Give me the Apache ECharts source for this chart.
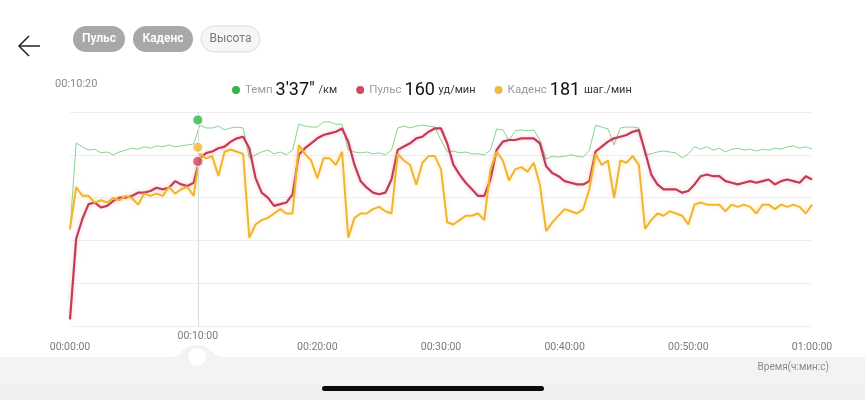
<!DOCTYPE html>
<html><head><meta charset="utf-8">
<script src="https://cdn.jsdelivr.net/npm/echarts@6/dist/echarts.min.js"></script>
<style>html,body{margin:0;padding:0;background:#fff}#c{width:865px;height:400px}</style>
</head><body><div id="c"></div>
<script>
// ---- data (sampled every 30 s) ----
const stepSeconds = 30;
const paceSecPerKm = [
451,266,274,281,279,287,285,291,285,281,
277,279,274,277,272,274,270,274,272,270,
268,228,234,234,230,238,234,232,234,298,
291,285,281,289,285,291,281,226,230,232,
232,221,221,226,226,281,285,287,285,289,
287,291,281,234,230,234,230,228,230,232,
260,285,283,287,285,289,289,291,281,236,
238,260,240,238,240,238,260,300,294,296,
294,291,294,296,281,228,232,236,270,234,
232,232,234,291,289,285,283,285,287,298,
289,274,279,274,281,277,285,279,277,281,
279,283,279,281,277,279,274,272,277,274,
279];
const heartRate = [
64,113,125,134,135,132,133,136,138,138,
139,141,141,142,144,143,144,148,146,145,
147,162,165,166,168,169,172,174,175,168,
150,141,138,133,134,135,140,164,168,171,
174,176,177,178,180,172,158,148,144,141,
140,141,149,167,169,171,174,175,178,180,
180,171,158,152,147,143,139,139,149,167,
172,173,173,174,174,174,171,157,153,151,
148,147,146,146,148,166,169,172,174,175,
176,178,179,166,152,146,143,143,143,141,
142,146,151,152,151,151,148,147,146,147,
148,147,148,149,146,148,149,148,147,151,
149];
const cadence = [
144,163,159,159,156,157,156,158,157,159,
158,155,160,159,160,159,163,160,162,163,
159,178,176,177,168,179,180,179,178,140,
146,148,149,151,153,151,151,182,178,175,
167,176,176,173,179,140,149,151,151,153,
154,152,151,178,175,173,164,174,177,177,
171,147,146,148,150,150,151,148,171,179,
175,166,171,172,170,174,164,143,147,150,
153,152,151,153,162,178,173,175,158,175,
174,177,173,144,148,151,150,152,151,150,
146,155,156,155,155,155,152,155,154,155,
154,151,155,155,153,155,154,155,154,151,
155];
const seriesNames = ['Темп', 'Пульс', 'Каденс'];
const cursorTime = 620;          // 00:10:20
const cursorPace = 217;          // 3'37" /км
const cursorHeartRate = 160;
const cursorCadence = 181;
const cursorTickLabel = 600;     // 00:10:00 tick shown at the cursor
const units = {'Темп': ' /км', 'Пульс': ' уд/мин', 'Каденс': ' шаг./мин'};
const tabs = ['Пульс', 'Каденс', 'Высота'];
const xAxisTitle = 'Время(ч:мин:с)';

// ---- helpers ----
const pad = n => String(n).padStart(2, '0');
const fmtTime = s => pad(Math.floor(s / 3600)) + ':' + pad(Math.floor(s % 3600 / 60)) + ':' + pad(s % 60);
const fmtPace = s => Math.floor(s / 60) + "'" + pad(s % 60) + '"';
const toPairs = arr => arr.map((v, i) => [i * stepSeconds, v]);
const legendValue = {'Темп': fmtPace(cursorPace), 'Пульс': String(cursorHeartRate), 'Каденс': String(cursorCadence)};

const FONT = 'Roboto, "Noto Sans", "DejaVu Sans", sans-serif';
const GREEN = '#35b64c', RED = '#c23b57', YELLOW = '#f0b52c';

const chart = echarts.init(document.getElementById('c'), null, {renderer: 'canvas'});

const tabX = [73, 133, 201], tabW = [52, 60, 59];
const tabGraphics = [];
tabs.forEach((t, i) => {
  tabGraphics.push({type: 'rect', shape: {x: tabX[i], y: 26, width: tabW[i], height: 26, r: 13},
     style: i < 2 ? {fill: '#a8a8a8'} : {fill: '#f6f6f6', stroke: '#dddddd', lineWidth: 1}});
  tabGraphics.push({type: 'text', x: tabX[i] + tabW[i] / 2, y: 39,
     style: {text: t, fill: i < 2 ? '#ffffff' : '#7a7a7a', font: (i < 2 ? '600 ' : '') + '12px ' + FONT,
       align: 'center', verticalAlign: 'middle'}, z: 5});
});

const option = {
  backgroundColor: '#ffffff',
  textStyle: {fontFamily: FONT},
  animation: false,
  grid: {left: 70, right: 53, top: 112, bottom: 74},
  legend: {
    left: 232, top: 81, padding: 0, icon: 'circle', itemWidth: 8, itemHeight: 8, itemGap: 19, itemTextGap: 3,
    data: [
      {name: seriesNames[0], itemStyle: {color: GREEN}},
      {name: seriesNames[1], itemStyle: {color: '#cc4d60'}},
      {name: seriesNames[2], itemStyle: {color: '#f0ba43'}}
    ],
    formatter: name => '{n|' + name + '}{v|' + legendValue[name] + '}{u|' + units[name] + '}',
    textStyle: {
      rich: {
        n: {fontSize: 11.5, color: '#9a9a9a', fontFamily: FONT},
        v: {fontSize: 18, color: '#111111', fontFamily: FONT, padding: [0, 1, 0, 3]},
        u: {fontSize: 11, color: '#333333', fontFamily: FONT}
      }
    }
  },
  xAxis: {
    type: 'value', min: 0, max: 3600, interval: 600,
    axisLine: {show: false}, axisTick: {show: false}, splitLine: {show: false},
    axisLabel: {color: '#7a7a7a', fontSize: 10.5, margin: 16, fontFamily: FONT,
      formatter: v => v === cursorTickLabel ? '' : fmtTime(v)}
  },
  yAxis: [
    {type: 'value', min: 0, max: 5, interval: 1, axisLabel: {show: false}, axisLine: {show: false},
     axisTick: {show: false}, splitLine: {show: true, lineStyle: {color: '#eeeeee', width: 1}}},
    {type: 'value', min: 60, max: 190, show: false},
    {type: 'value', min: 100, max: 197, show: false},
    {type: 'value', min: 200, max: 655, inverse: true, show: false}
  ],
  series: [
    {name: seriesNames[0], type: 'line', yAxisIndex: 3, data: toPairs(paceSecPerKm), showSymbol: false,
     lineStyle: {color: '#86d392', width: 1}, itemStyle: {color: GREEN}, z: 2},
    {name: seriesNames[1], type: 'line', yAxisIndex: 1, data: toPairs(heartRate), showSymbol: false,
     lineStyle: {color: RED, width: 2.2, shadowColor: 'rgba(220,90,110,0.35)', shadowBlur: 4}, itemStyle: {color: RED}, z: 3,
     markLine: {symbol: 'none', silent: true, animation: false,
       lineStyle: {color: '#d9d9d9', width: 1, type: 'solid'},
       label: {position: 'start', distance: 5, formatter: () => fmtTime(cursorTickLabel), color: '#7a7a7a', fontSize: 10.5, fontFamily: FONT},
       data: [{xAxis: cursorTime}]}},
    {name: seriesNames[2], type: 'line', yAxisIndex: 2, data: toPairs(cadence), showSymbol: false,
     lineStyle: {color: YELLOW, width: 2, shadowColor: 'rgba(245,190,60,0.35)', shadowBlur: 4}, itemStyle: {color: YELLOW}, z: 4},
    {name: 'cursor-pace', type: 'scatter', yAxisIndex: 3, data: [[cursorTime, cursorPace]], symbolSize: 10,
     itemStyle: {color: '#2fb44a', borderColor: '#ffffff', borderWidth: 1}, z: 10},
    {name: 'cursor-hr', type: 'scatter', yAxisIndex: 1, data: [[cursorTime, cursorHeartRate]], symbolSize: 10,
     itemStyle: {color: '#cf4358', borderColor: '#ffffff', borderWidth: 1}, z: 10},
    {name: 'cursor-cad', type: 'scatter', yAxisIndex: 2, data: [[cursorTime, cursorCadence]], symbolSize: 10,
     itemStyle: {color: '#f1b83a', borderColor: '#ffffff', borderWidth: 1}, z: 10}
  ],
  graphic: [
    // back arrow
    {type: 'polyline', shape: {points: [[29, 36], [19, 46], [29, 56]]}, style: {stroke: '#222', lineWidth: 1.5, fill: null}},
    {type: 'line', shape: {x1: 19, y1: 46, x2: 40, y2: 46}, style: {stroke: '#222', lineWidth: 1.5}},
    ...tabGraphics,
    // cursor time
    {type: 'text', x: 55, y: 79, style: {text: fmtTime(cursorTime), fill: '#8a8a8a', font: '11px ' + FONT}},
    // bottom band
    {type: 'rect', shape: {x: 0, y: 357, width: 865, height: 28}, style: {fill: '#f3f3f5'}, z: -1},
    {type: 'rect', shape: {x: 0, y: 385, width: 865, height: 15}, style: {fill: '#efeff1'}, z: -1},
    {type: 'polygon', shape: {points: [[158, 358], [176, 356], [186, 348], [197, 345], [208, 348], [218, 356], [236, 358]], smooth: 0.35}, style: {fill: '#f3f3f5'}, z: -1},
    {type: 'circle', shape: {cx: 197, cy: 357, r: 9}, style: {fill: '#ffffff'}},
    {type: 'text', x: 829, y: 362, style: {text: xAxisTitle, fill: '#8a8a8a', font: '10px ' + FONT, align: 'right'}},
    {type: 'rect', shape: {x: 322, y: 386, width: 222, height: 5, r: 2.5}, style: {fill: '#0a0a0a'}}
  ]
};
chart.setOption(option);
</script>
</body></html>
